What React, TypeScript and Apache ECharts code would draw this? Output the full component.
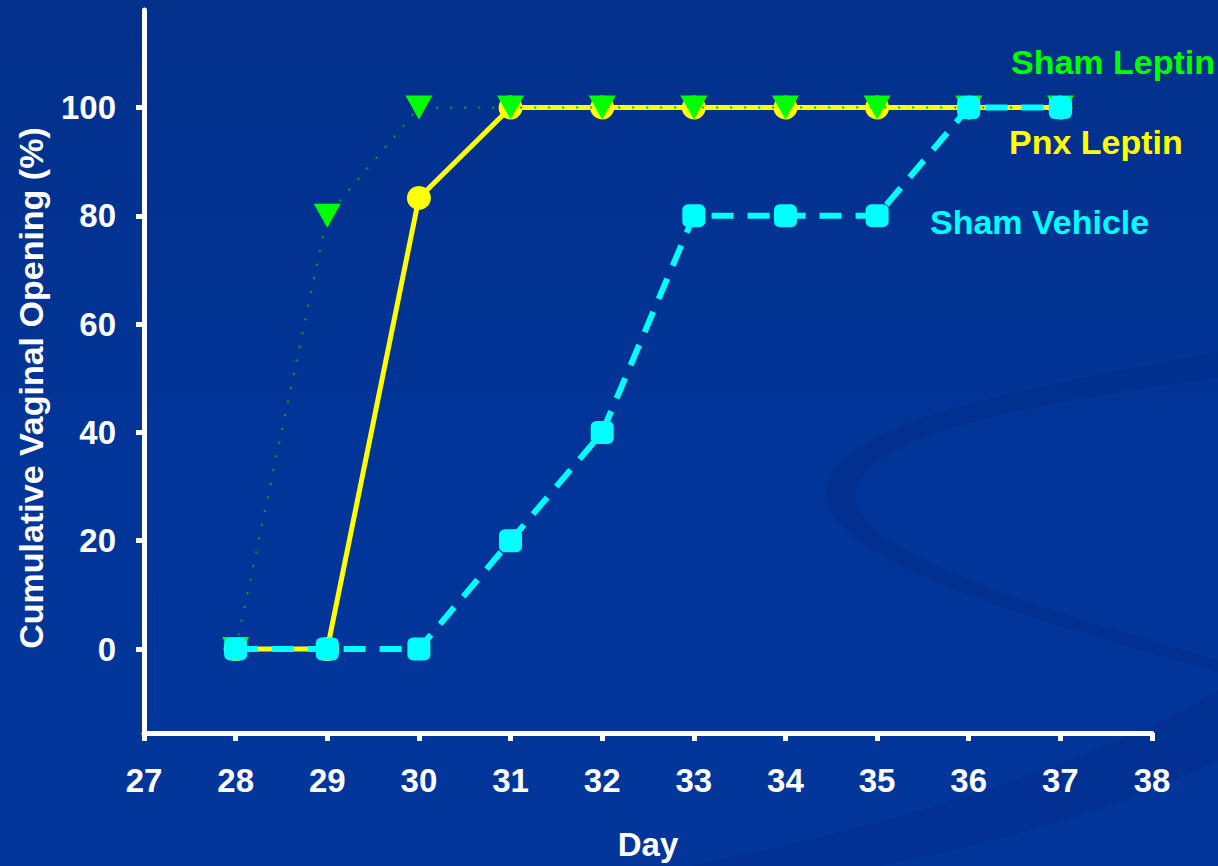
import React, { useEffect, useRef } from "react";
import * as echarts from "echarts";

const days = [28, 29, 30, 31, 32, 33, 34, 35, 36, 37];
const shamLeptin = [0, 80, 100, 100, 100, 100, 100, 100, 100, 100];
const pnxLeptin = [0, 0, 83.3, 100, 100, 100, 100, 100, 100, 100];
const shamVehicle = [0, 0, 0, 20, 40, 80, 80, 80, 100, 100];
const yTicks = [0, 20, 40, 60, 80, 100];
const xTicks = [27, 28, 29, 30, 31, 32, 33, 34, 35, 36, 37, 38];
const seriesNames = ["Sham Leptin", "Pnx Leptin", "Sham Vehicle"];
const yTitle = "Cumulative Vaginal Opening (%)";
const xTitle = "Day";

const upperSwoosh =
  "M1218 352 C1000 392 835 425 826 488 C818 555 1000 612 1218 672 L1218 660 C1010 600 852 548 856 494 C862 438 1010 405 1218 378 Z";
const lowerSwoosh =
  "M690 866 C900 825 1100 760 1218 690 L1218 760 C1110 815 960 850 880 866 Z";

export default function App() {
  const ref = useRef<HTMLDivElement>(null);
  useEffect(() => {
    document.body.style.margin = "0";
    echarts.graphic.registerShape("swooshA", echarts.graphic.extendPath(upperSwoosh, {}));
    echarts.graphic.registerShape("swooshB", echarts.graphic.extendPath(lowerSwoosh, {}));
    const chart = echarts.init(ref.current!, null, { renderer: "svg" });
    const font = "'Liberation Sans', Arial, sans-serif";
    const pair = (arr: number[]) => days.map((d, i) => [d, arr[i]]);
    chart.setOption({
      animation: false,
      backgroundColor: new echarts.graphic.LinearGradient(0, 0, 0, 1, [
        { offset: 0, color: "#02308b" },
        { offset: 0.5, color: "#023598" },
        { offset: 1, color: "#02369b" },
      ]),
      textStyle: { fontFamily: font },
      grid: { left: 144, right: 66, top: 10, bottom: 126, containLabel: false },
      graphic: [
        { type: "swooshA", x: 0, y: 0, silent: true, z: -10, style: { fill: "rgba(0,30,110,0.18)" } },
        { type: "swooshB", x: 0, y: 0, silent: true, z: -10, style: { fill: "rgba(0,30,110,0.18)" } },
        {
          type: "text", x: 31, y: 388, rotation: Math.PI / 2, z: 100,
          style: { text: yTitle, fill: "#fff", font: `bold 34px ${font}`, align: "center", verticalAlign: "middle" },
        },
        {
          type: "text", left: 1011, top: 45, z: 100,
          style: { text: seriesNames[0], fill: "#00ff00", font: `bold 34px ${font}` },
        },
        {
          type: "text", left: 1009, top: 125, z: 100,
          style: { text: seriesNames[1], fill: "#ffff00", font: `bold 34px ${font}` },
        },
        {
          type: "text", left: 930, top: 205, z: 100,
          style: { text: seriesNames[2], fill: "#00ffff", font: `bold 34px ${font}` },
        },
      ],
      xAxis: {
        type: "value",
        min: 27,
        max: 38,
        interval: 1,
        name: xTitle,
        nameLocation: "middle",
        nameGap: 95,
        nameTextStyle: { color: "#fff", fontSize: 33, fontWeight: "bold", fontFamily: font },
        axisLine: { onZero: false, lineStyle: { color: "#fff", width: 5 } },
        axisTick: { show: true, inside: false, length: 8, lineStyle: { color: "#fff", width: 5 } },
        axisLabel: {
          color: "#fff", fontSize: 33, fontWeight: "bold", margin: 31, fontFamily: font,
          customValues: xTicks,
        },
        splitLine: { show: false },
      },
      yAxis: {
        type: "value",
        min: -15.5,
        max: 118,
        axisLine: { show: true, onZero: false, lineStyle: { color: "#fff", width: 5 } },
        axisTick: { show: true, inside: false, length: 8, lineStyle: { color: "#fff", width: 5 }, customValues: yTicks },
        axisLabel: {
          color: "#fff", fontSize: 33, fontWeight: "bold", margin: 28, fontFamily: font,
          customValues: yTicks,
        },
        splitLine: { show: false },
      },
      series: [
        {
          name: seriesNames[1],
          type: "line",
          data: pair(pnxLeptin),
          z: 2,
          symbol: "circle",
          symbolSize: 24,
          itemStyle: { color: "#ffff00" },
          lineStyle: { color: "#ffff00", width: 5 },
        },
        {
          name: seriesNames[0],
          type: "line",
          data: pair(shamLeptin),
          z: 3,
          symbol: "triangle",
          symbolRotate: 180,
          symbolSize: [27, 24],
          itemStyle: { color: "#00ff00" },
          lineStyle: { color: "#00b000", width: 2, type: [2, 12] },
        },
        {
          name: seriesNames[2],
          type: "line",
          data: pair(shamVehicle),
          z: 4,
          symbol: "roundRect",
          symbolSize: 23,
          itemStyle: { color: "#00ffff" },
          lineStyle: { color: "#00ffff", width: 6, type: [22, 14] },
        },
      ],
    });
    return () => chart.dispose();
  }, []);
  return <div ref={ref} style={{ width: 1218, height: 866 }} />;
}
